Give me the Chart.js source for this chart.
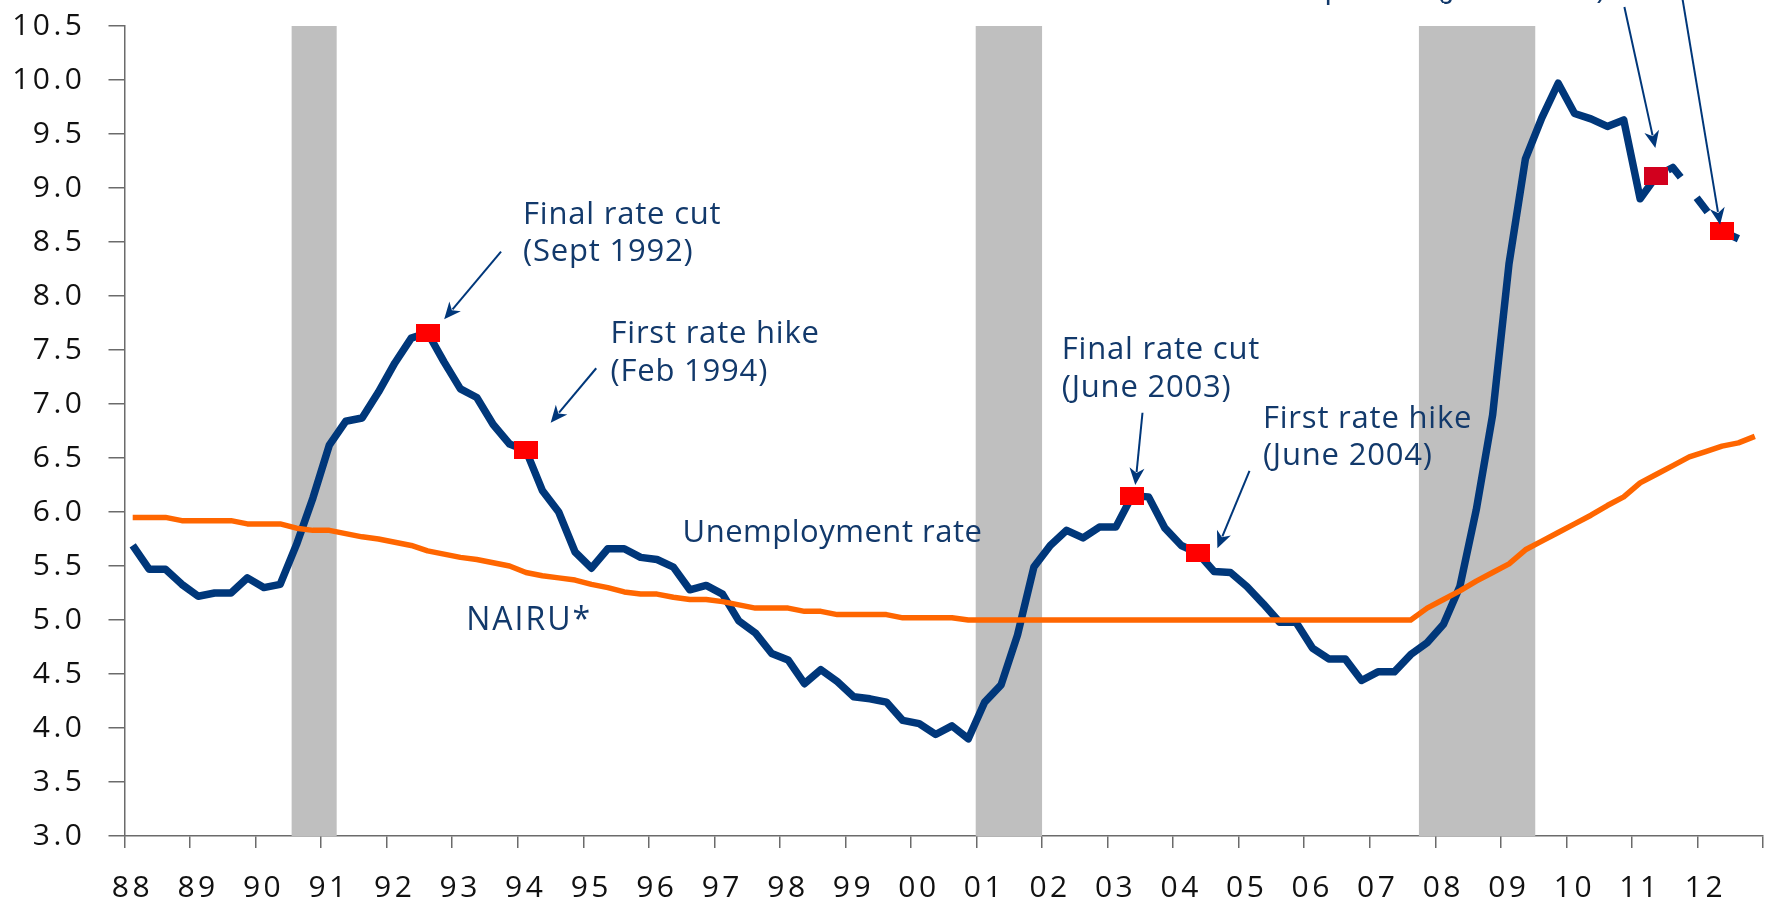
<!DOCTYPE html>
<html><head><meta charset="utf-8">
<script src="https://cdn.jsdelivr.net/npm/chart.js@4"></script>
<style>html,body{margin:0;padding:0;background:#fff;overflow:hidden}canvas{display:block}</style>
</head><body>
<canvas id="c" width="1774" height="908"></canvas>
<script>
// ---- data (quarterly, 1988Q1 = index 0) ----
const yearLabels = ['88','89','90','91','92','93','94','95','96','97','98','99','00','01','02','03','04','05','06','07','08','09','10','11','12'];
const xTickValues = [0,4,8,12,16,20,24,28,32,36,40,44,48,52,56,60,64,68,72,76,80,84,88,92,96,100];
const yTickValues = [3.0,3.5,4.0,4.5,5.0,5.5,6.0,6.5,7.0,7.5,8.0,8.5,9.0,9.5,10.0,10.5];
const yTickLabels = ['3.0','3.5','4.0','4.5','5.0','5.5','6.0','6.5','7.0','7.5','8.0','8.5','9.0','9.5','10.0','10.5'];

const unemployment = [
  5.69,5.47,5.47,5.33, 5.22,5.25,5.25,5.39, 5.30,5.33,5.70,6.13, 6.62,6.84,6.87,7.11,
  7.38,7.61,7.66,7.39, 7.14,7.06,6.81,6.63, 6.57,6.20,6.00,5.63, 5.48,5.66,5.66,5.58,
  5.56,5.49,5.28,5.32, 5.24,4.99,4.88,4.69, 4.63,4.41,4.54,4.43, 4.29,4.27,4.24,4.07,
  4.04,3.94,4.02,3.90, 4.24,4.40,4.86,5.49, 5.69,5.83,5.76,5.86, 5.86,6.15,6.14,5.85,
  5.69,5.62,5.45,5.44, 5.31,5.15,4.98,4.98, 4.74,4.64,4.64,4.44, 4.52,4.52,4.68,4.79,
  4.96,5.31,6.02,6.90, 8.30,9.27,9.65,9.97, 9.69,9.64,9.57,9.63, 8.90,9.11,9.19,9.00,
  8.80,8.60,8.53
];
const forecastStart = 93;   // dashed from here on

const nairu = [
  5.95,5.95,5.95,5.92, 5.92,5.92,5.92,5.89, 5.89,5.89,5.85,5.83, 5.83,5.80,5.77,5.75,
  5.72,5.69,5.64,5.61, 5.58,5.56,5.53,5.50, 5.44,5.41,5.39,5.37, 5.33,5.30,5.26,5.24,
  5.24,5.21,5.19,5.19, 5.17,5.14,5.11,5.11, 5.11,5.08,5.08,5.05, 5.05,5.05,5.05,5.02,
  5.02,5.02,5.02,5.00, 5.00,5.00,5.00,5.00, 5.00,5.00,5.00,5.00, 5.00,5.00,5.00,5.00,
  5.00,5.00,5.00,5.00, 5.00,5.00,5.00,5.00, 5.00,5.00,5.00,5.00, 5.00,5.00,5.00,5.11,
  5.19,5.27,5.36,5.44, 5.52,5.65,5.73,5.81, 5.89,5.97,6.06,6.14, 6.27,6.35,6.43,6.51,
  6.56,6.61,6.64,6.70
];

const recessions = [[10.2, 12.95], [51.95, 56.0], [79.0, 86.1]];
const markerQuarters = [18, 24, 61, 65, 93, 97];
const markerColors = ['#FF0000','#FF0000','#FF0000','#FF0000','#D2001E','#FF0000'];

const annotations = [
  { lines:['Final rate cut','(Sept 1992)'],  at:[24.32, 8.667], from:[22.98, 8.41], to:[19.51, 7.784] },
  { lines:['First rate hike','(Feb 1994)'],  at:[29.66, 7.562], from:[28.79, 7.331], to:[26.01, 6.827] },
  { lines:['Final rate cut','(June 2003)'],  at:[57.2, 7.414],  from:[62.13, 6.919], to:[61.69, 6.25] },
  { lines:['First rate hike','(June 2004)'], at:[69.48, 6.781], from:[68.66, 6.38],  to:[66.7, 5.664] },
  { lines:['Expected (June 2011)'],          at:[71.08, 10.76], from:[91.54, 10.676], to:[93.43, 9.37] },
  { lines:[],                                at:[0, 0],         from:[95.0, 10.83],  to:[97.38, 8.66] }
];
const seriesLabels = [
  { text:'Unemployment rate', at:[34.06, 5.725], size:31, spacing:0.5 },
  { text:'NAIRU*', at:[20.85, 4.907], size:32, spacing:2 }
];

// ---- helpers ----
function rectStyle(color){
  const c = document.createElement('canvas');
  c.width = 24; c.height = 18;
  const g = c.getContext('2d');
  g.fillStyle = color; g.fillRect(0,0,24,18);
  return c;
}
const TEXT = '#12396B';
const NAVY = '#00377A';

const recessionPlugin = {
  id:'recessions',
  beforeDraw(chart){ chart.ctx.letterSpacing = '3.5px'; },
  beforeDatasetsDraw(chart){
    const {ctx, chartArea, scales:{x}} = chart;
    ctx.save();
    ctx.fillStyle = '#BFBFBF';
    recessions.forEach(([s,e])=>{
      const x1 = x.getPixelForValue(s), x2 = x.getPixelForValue(e);
      ctx.fillRect(x1, chartArea.top, x2-x1, chartArea.bottom-chartArea.top);
    });
    ctx.restore();
  }
};

function drawArrow(ctx, x1, y1, x2, y2){
  const a = Math.atan2(y2-y1, x2-x1);
  const L = 17, W = 7.5;
  const bx = x2 - L*Math.cos(a), by = y2 - L*Math.sin(a);
  ctx.beginPath(); ctx.moveTo(x1,y1); ctx.lineTo(bx + 4*Math.cos(a), by + 4*Math.sin(a));
  ctx.lineWidth = 2; ctx.stroke();
  ctx.beginPath();
  ctx.moveTo(x2,y2);
  ctx.lineTo(bx + W*Math.sin(a), by - W*Math.cos(a));
  ctx.lineTo(bx + 5*Math.cos(a), by + 5*Math.sin(a));
  ctx.lineTo(bx - W*Math.sin(a), by + W*Math.cos(a));
  ctx.closePath(); ctx.fill();
}

const annotationPlugin = {
  id:'annotations',
  afterDraw(chart){
    const {ctx, scales:{x, y}} = chart;
    ctx.save();
    ctx.fillStyle = TEXT; ctx.strokeStyle = NAVY;
    ctx.textAlign = 'left'; ctx.textBaseline = 'alphabetic';
    ctx.letterSpacing = '0.8px';
    ctx.font = '31px "Open Sans"';
    annotations.forEach(an=>{
      const px = x.getPixelForValue(an.at[0]), py = y.getPixelForValue(an.at[1]);
      an.lines.forEach((t,i)=>{ ctx.fillStyle = TEXT; ctx.fillText(t, px, py + i*37.5); });
      ctx.fillStyle = NAVY;
      drawArrow(ctx, x.getPixelForValue(an.from[0]), y.getPixelForValue(an.from[1]),
                     x.getPixelForValue(an.to[0]), y.getPixelForValue(an.to[1]));
    });
    ctx.fillStyle = TEXT;
    seriesLabels.forEach(l=>{
      ctx.letterSpacing = l.spacing + 'px';
      ctx.font = l.size + 'px "Open Sans"';
      ctx.fillText(l.text, x.getPixelForValue(l.at[0]), y.getPixelForValue(l.at[1]));
    });
    ctx.restore();
  }
};

const tickFont = { family:'"Open Sans"', size:30 };

const chart = new Chart(document.getElementById('c'), {
  type:'line',
  data:{
    datasets:[
      {
        label:'markers',
        data: markerQuarters.map(q=>({x:q+0.5, y:unemployment[q]})),
        showLine:false,
        pointStyle: markerColors.map(rectStyle),
        pointRadius: 10,
        order:0
      },
      {
        label:'NAIRU*',
        data: nairu.map((v,i)=>({x:i+0.5, y:v})),
        borderColor:'#FF6600', borderWidth:5.5, pointRadius:0,
        borderJoinStyle:'round', tension:0, order:1
      },
      {
        label:'Unemployment rate',
        data: unemployment.map((v,i)=>({x:i+0.5, y:v})),
        borderColor:NAVY, borderWidth:7.5, pointRadius:0,
        borderJoinStyle:'round', tension:0, order:2,
        segment:{
          borderDash: c => c.p0DataIndex >= forecastStart ? [18,26] : undefined,
          borderDashOffset: c => c.p0DataIndex >= forecastStart ? 31 : 0
        }
      }
    ]
  },
  options:{
    responsive:false, animation:false, devicePixelRatio:1,
    layout:{ padding:{ top:26, right:7, bottom:0, left:0 } },
    plugins:{ legend:{display:false}, tooltip:{enabled:false} },
    scales:{
      x:{
        type:'linear', min:0, max:100,
        afterBuildTicks(s){ s.ticks = xTickValues.map(v=>({value:v})); },
        afterFit(s){ s.height = 72; s.paddingLeft = 0; s.paddingRight = 0; },
        ticks:{ autoSkip:false, maxRotation:0, labelOffset:8, padding:22, color:'#111', font:tickFont,
                callback:(v,i)=> yearLabels[i] !== undefined ? yearLabels[i] : '' },
        grid:{ drawOnChartArea:false, drawTicks:true, tickLength:12, color:'#6b6b6b', lineWidth:1.5 },
        border:{ display:true, color:'#6b6b6b', width:1.5 }
      },
      y:{
        type:'linear', min:3, max:10.5,
        afterBuildTicks(s){ s.ticks = yTickValues.map(v=>({value:v})); },
        afterFit(s){ s.width = 124.5; s.paddingTop = 0; s.paddingBottom = 0; },
        ticks:{ autoSkip:false, padding:23, color:'#111', font:tickFont,
                callback:(v,i)=> yTickLabels[i] },
        grid:{ drawOnChartArea:false, drawTicks:true, tickLength:16, color:'#6b6b6b', lineWidth:1.5 },
        border:{ display:true, color:'#6b6b6b', width:1.5 }
      }
    }
  },
  plugins:[recessionPlugin, annotationPlugin]
});

// nudge layout padding so the plot area lands on the reference frame
const frame = { left:124.5, top:26, right:1767, bottom:836 };
for (let k = 0; k < 4; k++) {
  const a = chart.chartArea, p = chart.config.options.layout.padding;
  const dt = frame.top - a.top, dr = a.right - frame.right, db = a.bottom - frame.bottom, dl = frame.left - a.left;
  if (Math.abs(dt) + Math.abs(dr) + Math.abs(db) + Math.abs(dl) < 0.5) break;
  p.top += dt; p.right += dr; p.bottom += db; p.left += dl;
  chart.update();
}
</script>
</body></html>
